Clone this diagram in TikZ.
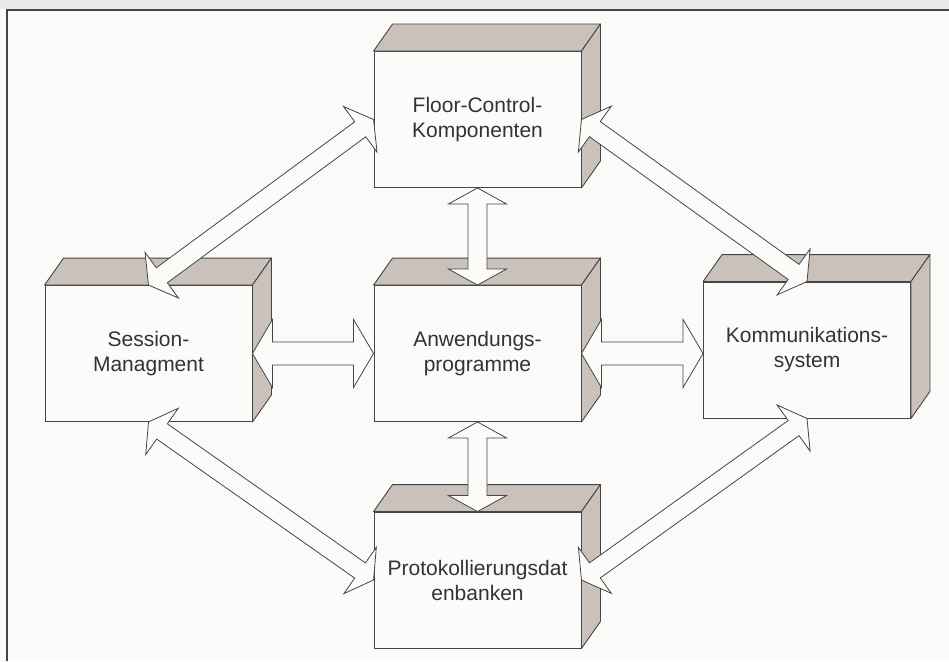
\documentclass[tikz,border=0pt]{standalone}
\usepackage{fontspec}
\setmainfont{Liberation Sans}
\usetikzlibrary{calc}
\definecolor{bg}{HTML}{FAFAF8}
\definecolor{topstrip}{HTML}{E9E9E9}
\definecolor{front}{HTML}{FBFBF9}
\definecolor{side}{HTML}{C9C1BA}
\definecolor{edge}{HTML}{454545}
\definecolor{txt}{HTML}{333333}
% double-headed block arrow: #1 start, #2 end, #3 shaft half width, #4 head half width, #5 head length (pt)
\newcommand{\blockarrow}[5]{%
  \coordinate (ha) at ($(#1)!#5pt!(#2)$);
  \coordinate (hb) at ($(#2)!#5pt!(#1)$);
  \draw[barrow] (#1) -- ($(ha)!#4pt!90:(#2)$) -- ($(ha)!#3pt!90:(#2)$)
    -- ($(hb)!#3pt!-90:(#1)$) -- ($(hb)!#4pt!-90:(#1)$) -- (#2)
    -- ($(hb)!#4pt!90:(#1)$) -- ($(hb)!#3pt!90:(#1)$)
    -- ($(ha)!#3pt!-90:(#2)$) -- ($(ha)!#4pt!-90:(#2)$) -- cycle;
}
\newcommand{\boxdepth}[1]{%
  \draw[sideface] (#1.north west) -- ++(19,-27) -- ($(#1.north east)+(19,-27)$) -- (#1.north east) -- cycle;
  \draw[sideface] (#1.north east) -- ++(19,-27) -- ($(#1.south east)+(19,-27)$) -- (#1.south east) -- cycle;
}
\begin{document}
\begin{tikzpicture}[x=1pt,y=-1pt,
  box/.style={draw=edge, line width=0.9pt, fill=front, minimum width=207pt,
    minimum height=136pt, inner sep=0pt, align=center, text=txt,
    font=\fontsize{21}{25}\selectfont},
  sideface/.style={draw=edge, line width=0.9pt, fill=side, line join=round},
  barrow/.style={draw=edge, line width=0.8pt, fill=front, line join=miter}]
\useasboundingbox (0,0) rectangle (949,661);
\fill[bg] (0,0) rectangle (949,661);
\fill[topstrip] (0,0) rectangle (949,9);
\draw[edge, line width=1.3pt] (949,10) -- (7,10) -- (7,661);

\node[box] (floor) at (477.5,119.5) {Floor-Control-\\Komponenten};
\node[box] (sess) at (148.5,353.5) {Session-\\Managment};
\node[box] (anw) at (477.5,353.5) {Anwendungs-\\programme};
\node[box] (komm) at (807,350) {Kommunikations-\\system};
\node[box] (prot) at (477.5,580) {Protokollierungsdat\\enbanken};

\boxdepth{floor}
\boxdepth{sess}
\boxdepth{anw}
\boxdepth{komm}
\boxdepth{prot}

\coordinate (kw) at (komm.west |- anw.east);

\blockarrow{sess.north}{floor.west}{9.3}{28.3}{16.5}
\blockarrow{floor.east}{komm.north}{9.3}{28.3}{16.5}
\blockarrow{sess.south}{prot.west}{9.3}{28.3}{16.5}
\blockarrow{prot.east}{komm.south}{9.3}{28.3}{16.5}
\blockarrow{sess.east}{anw.west}{11.5}{34}{20}
\blockarrow{anw.east}{kw}{11.5}{34}{20}
\blockarrow{floor.south}{anw.north}{9.5}{29}{16}
\blockarrow{anw.south}{prot.north}{9.5}{29}{16}
\end{tikzpicture}
\end{document}
